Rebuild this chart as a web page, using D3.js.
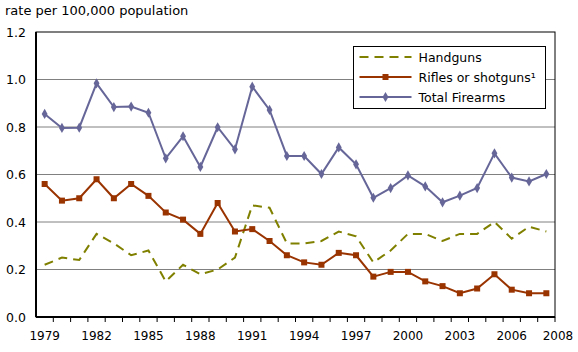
<!DOCTYPE html>
<html>
<head>
<meta charset="utf-8">
<script src="https://cdn.jsdelivr.net/npm/d3@7"></script>
<style>
  body { margin: 0; background: #fff; }
  svg text { font-family: "DejaVu Sans", Verdana, sans-serif; }
</style>
</head>
<body>
<div id="chart"></div>
<script>
const years = d3.range(1979, 2009);
const handguns = [0.22, 0.25, 0.24, 0.35, 0.31, 0.26, 0.28, 0.15, 0.22, 0.18, 0.20, 0.25, 0.47, 0.46, 0.31,
  0.31, 0.32, 0.36, 0.34, 0.23, 0.28, 0.35, 0.35, 0.32, 0.35, 0.35, 0.40, 0.33, 0.38, 0.36];
const rifles = [0.56, 0.49, 0.50, 0.58, 0.50, 0.56, 0.51, 0.44, 0.41, 0.35, 0.48, 0.36, 0.37, 0.32, 0.26,
  0.23, 0.22, 0.27, 0.26, 0.17, 0.19, 0.19, 0.15, 0.13, 0.10, 0.12, 0.18, 0.115, 0.10, 0.10];
const total = [0.855, 0.796, 0.797, 0.984, 0.884, 0.886, 0.86, 0.668, 0.761, 0.632, 0.799, 0.706, 0.97, 0.872, 0.678,
  0.678, 0.602, 0.714, 0.643, 0.502, 0.543, 0.596, 0.55, 0.483, 0.511, 0.543, 0.689, 0.587, 0.571, 0.602];
const yTicks = [0, 0.2, 0.4, 0.6, 0.8, 1.0, 1.2];
const xLabels = [1979, 1982, 1985, 1988, 1991, 1994, 1997, 2000, 2003, 2006];

const series = [
  {name: "Handguns", values: handguns, color: "#808000", dash: "9,6", marker: null},
  {name: "Rifles or shotguns\u00b9", values: rifles, color: "#993300", dash: null, marker: "square"},
  {name: "Total Firearms", values: total, color: "#666699", dash: null, marker: "diamond"}
];

const W = 578, H = 352;
const margin = {top: 32, right: 23, bottom: 35, left: 36};
const width = W - margin.left - margin.right;
const height = H - margin.top - margin.bottom;

const svg = d3.select("#chart").append("svg")
  .attr("width", W).attr("height", H);

// titre de l'axe
svg.append("text")
  .attr("x", 5).attr("y", 15)
  .attr("font-size", "13px")
  .text("rate per 100,000 population");

const g = svg.append("g").attr("transform", `translate(${margin.left},${margin.top})`);

const x = d3.scaleBand().domain(years).range([0, width]);
const y = d3.scaleLinear().domain([0, 1.2]).range([height, 0]);

// grille
g.selectAll(".grid").data(yTicks.filter(d => d > 0 && d < 1.2))
  .enter().append("line")
  .attr("x1", 0).attr("x2", width)
  .attr("y1", d => y(d)).attr("y2", d => y(d))
  .attr("stroke", "#808080").attr("stroke-width", 1);

// axe Y
const yAxis = g.append("g")
  .call(d3.axisLeft(y).tickValues(yTicks).tickFormat(d3.format(".1f")).tickSize(0).tickPadding(10));
yAxis.select(".domain").remove();
yAxis.selectAll("text").attr("font-size", "12.5px").attr("fill", "#000")
  .style("font-family", '"DejaVu Sans", Verdana, sans-serif');

// axe X : graduations entre les années
const xAxis = g.append("g").attr("transform", `translate(0,${height})`);
xAxis.selectAll(".tick").data(years)
  .enter().append("line")
  .attr("x1", d => x(d) + x.bandwidth()).attr("x2", d => x(d) + x.bandwidth())
  .attr("y1", 0).attr("y2", 5)
  .attr("stroke", "#000");
xAxis.selectAll(".lbl").data(xLabels)
  .enter().append("text")
  .attr("x", d => x(d) + x.bandwidth() / 2)
  .attr("y", 23)
  .attr("text-anchor", "middle")
  .attr("font-size", "12px")
  .text(d => d);
xAxis.append("text")
  .attr("x", width + 3).attr("y", 23)
  .attr("text-anchor", "middle")
  .attr("font-size", "12px")
  .text("2008");

// cadre
g.append("rect")
  .attr("x", 0).attr("y", 0).attr("width", width).attr("height", height)
  .attr("fill", "none").attr("stroke", "#000").attr("stroke-width", 1);
g.append("line").attr("x1", 0).attr("x2", 0).attr("y1", 0).attr("y2", height)
  .attr("stroke", "#000").attr("stroke-width", 2);
g.append("line").attr("x1", 0).attr("x2", width).attr("y1", height).attr("y2", height)
  .attr("stroke", "#000").attr("stroke-width", 2);

const line = d3.line()
  .x((d, i) => x(years[i]) + x.bandwidth() / 2)
  .y(d => y(d));

const diamond = d3.symbol().type(d3.symbolDiamond).size(30);

function drawMarker(sel, type, color) {
  if (type === "square") {
    sel.append("rect").attr("x", -3).attr("y", -3).attr("width", 6).attr("height", 6).attr("fill", color);
  } else if (type === "diamond") {
    sel.append("path").attr("d", diamond).attr("fill", color);
  }
}

series.forEach(s => {
  g.append("path")
    .datum(s.values)
    .attr("fill", "none")
    .attr("stroke", s.color)
    .attr("stroke-width", 2)
    .attr("stroke-dasharray", s.dash)
    .attr("d", line);
  if (s.marker) {
    g.selectAll(null).data(s.values).enter().append("g")
      .attr("transform", (d, i) => `translate(${x(years[i]) + x.bandwidth() / 2},${y(d)})`)
      .each(function() { drawMarker(d3.select(this), s.marker, s.color); });
  }
});

// légende
const legend = svg.append("g").attr("transform", "translate(353.5,46.5)");
legend.append("rect")
  .attr("width", 192).attr("height", 62)
  .attr("fill", "#fff").attr("stroke", "#000").attr("stroke-width", 1);
series.forEach((s, i) => {
  const row = legend.append("g").attr("transform", `translate(0,${10.5 + i * 20})`);
  row.append("line").attr("x1", 6).attr("x2", 58).attr("y1", 0).attr("y2", 0)
    .attr("stroke", s.color).attr("stroke-width", 2).attr("stroke-dasharray", s.dash);
  if (s.marker) {
    const m = row.append("g").attr("transform", "translate(32,0)");
    drawMarker(m, s.marker, s.color);
  }
  row.append("text").attr("x", 65).attr("y", 4.5).attr("font-size", "12.5px").text(s.name);
});
</script>
</body>
</html>
